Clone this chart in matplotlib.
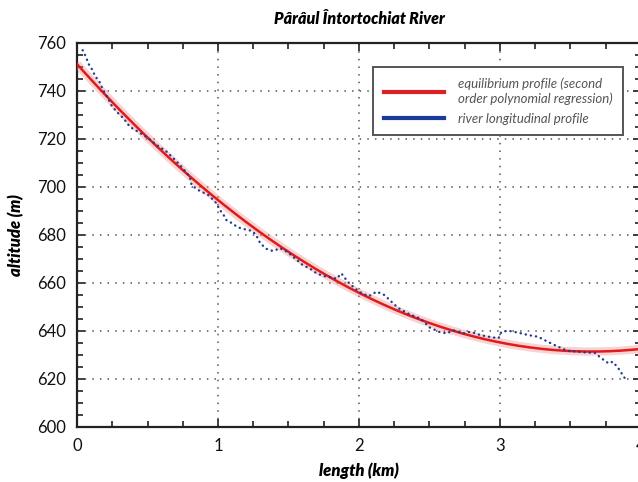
import numpy as np
import matplotlib
matplotlib.use("Agg")
import matplotlib.pyplot as plt
from matplotlib.lines import Line2D
from matplotlib.ticker import MultipleLocator

plt.rcParams['font.family'] = ['Lato', 'DejaVu Sans']

# river longitudinal profile (km, m)
river_km = [0.04, 0.06, 0.085, 0.11, 0.13, 0.156, 0.18, 0.22, 0.245, 0.28,
            0.33, 0.376, 0.435, 0.505, 0.565, 0.636, 0.695, 0.74, 0.80, 0.813,
            0.86, 0.93, 0.98, 1.014, 1.04, 1.06, 1.10, 1.14, 1.19, 1.24, 1.27,
            1.30, 1.345, 1.39, 1.44, 1.49, 1.56, 1.60, 1.65, 1.70, 1.75, 1.82,
            1.84, 1.875, 1.92, 1.97, 2.02, 2.07, 2.125, 2.18, 2.23, 2.28, 2.36,
            2.43, 2.46, 2.50, 2.57, 2.62, 2.67, 2.74, 2.79, 2.86, 2.94, 2.99,
            3.01, 3.06, 3.13, 3.20, 3.27, 3.34, 3.41, 3.48, 3.55, 3.62, 3.67,
            3.72, 3.77, 3.80, 3.84, 3.87, 3.90]
river_alt = [757, 754.6, 751, 748.7, 746, 744.3, 741, 737, 734, 731.4,
             728.6, 725, 723, 720.3, 717.5, 714.7, 711.3, 708.5, 704.3, 700.8,
             698.7, 696.7, 693.9, 690.4, 688.3, 686.2, 684.9, 683.2, 682.4, 681.7, 680,
             676.5, 674.2, 673.3, 674.5, 673, 669.6, 667.5, 666.1, 664, 662.9, 662.2,
             661.7, 664, 660.5, 657.8, 655.7, 654.5, 656.4, 655, 652.2, 649.5, 646.9,
             645.3, 643.9, 641.5, 639.6, 639, 640.3, 639, 639.7, 638.3, 637.4, 637,
             639.7, 640.1, 639.3, 638.3, 637.6, 635.5, 633.5, 631.7, 631.4, 631, 631,
             628.6, 626.5, 627.2, 624.4, 621.7, 619]

# points read on the red equilibrium curve
fit_km = [0, 0.5, 1, 1.5, 2, 2.5, 3, 3.5, 4]
fit_alt = [751, 720.5, 695, 673.5, 656, 642, 635.5, 632, 632.5]

x_ticks = [0, 1, 2, 3, 4]
y_ticks = [600, 620, 640, 660, 680, 700, 720, 740, 760]

coef = np.polyfit(fit_km, fit_alt, 2)
xs = np.linspace(0, 4, 200)
ys = np.polyval(coef, xs)

fig = plt.figure(figsize=(6.38, 4.82), dpi=100)
ax = fig.add_axes([77/638, 1 - 427/482, 564/638, 384/482])

ax.plot(xs, ys, color='#f08080', lw=6, alpha=0.35, solid_capstyle='butt', zorder=3)
ax.plot(xs, ys, color='#e01b1b', lw=1.8, zorder=4)
ax.plot(river_km, river_alt, color='#1f3c8f', lw=1.7, linestyle=(0, (0.1, 2.1)),
        dash_capstyle='round', zorder=5)

ax.set_xlim(0, 4)
ax.set_ylim(600, 760)
ax.set_xticks(x_ticks)
ax.set_yticks(y_ticks)
ax.xaxis.set_minor_locator(MultipleLocator(0.25))
ax.yaxis.set_minor_locator(MultipleLocator(5))
ax.tick_params(which='both', direction='in', top=True, right=True, width=1.2,
               colors='#222222', labelsize=12, labelcolor='#111111')
ax.tick_params(which='major', length=6, pad=8)
ax.tick_params(which='minor', length=4)
for s in ax.spines.values():
    s.set_linewidth(1.6)
    s.set_color('#222222')

ax.grid(True, which='major', color='#555555', lw=1.1, linestyle=(0, (1, 4)))

ax.set_title('Pârâul Întortochiat River', fontsize=11.5, fontweight='heavy',
             fontstyle='italic', pad=14)
ax.set_xlabel('length (km)', fontsize=12, fontweight='heavy', fontstyle='italic',
              labelpad=6)
ax.set_ylabel('altitude (m)', fontsize=12, fontweight='heavy', fontstyle='italic',
              labelpad=9)

handles = [Line2D([], [], color='#dd1f26', lw=3),
           Line2D([], [], color='#1a3b98', lw=3)]
labels = ['equilibrium profile (second\norder polynomial regression)',
          'river longitudinal profile']
leg = ax.legend(handles, labels, loc='upper left', bbox_to_anchor=(0.525, 0.9375),
                borderaxespad=0, fancybox=False, framealpha=1, edgecolor='#555555',
                prop={'size': 9.5, 'style': 'italic'}, handlelength=4.6,
                handletextpad=1.0, borderpad=0.8, labelspacing=0.6,
                labelcolor='#555555')
leg.get_frame().set_linewidth(1.4)

fig.savefig('out.png', dpi=100)
